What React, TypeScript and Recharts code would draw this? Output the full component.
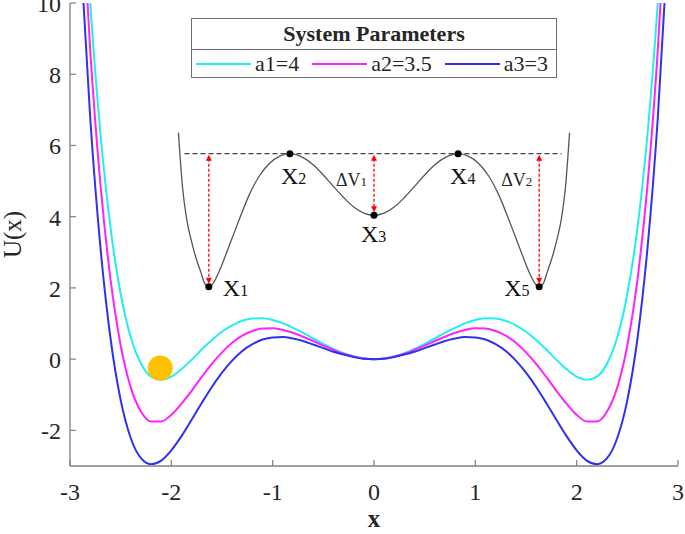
import React from 'react';
import { LineChart, Line, XAxis, YAxis, ReferenceDot, ReferenceLine, Legend } from 'recharts';

// potential curves (x step 0.1)
const xValues = [
  -3.0, -2.9, -2.8, -2.7, -2.6, -2.5, -2.4, -2.3, -2.2, -2.1, -2.0, -1.9, -1.8, -1.7, -1.6, -1.5,
  -1.4, -1.3, -1.2, -1.1, -1.0, -0.9, -0.8, -0.7, -0.6, -0.5, -0.4, -0.3, -0.2, -0.1, 0.0,
  0.1, 0.2, 0.3, 0.4, 0.5, 0.6, 0.7, 0.8, 0.9, 1.0, 1.1, 1.2, 1.3, 1.4, 1.5,
  1.6, 1.7, 1.8, 1.9, 2.0, 2.1, 2.2, 2.3, 2.4, 2.5, 2.6, 2.7, 2.8, 2.9, 3.0,
];
const uA1 = [
  21.16, 14.85, 10.0, 6.35, 3.69, 1.83, 0.61, -0.12, -0.49, -0.58, -0.49, -0.28, -0.02, 0.27, 0.54, 0.77,
  0.95, 1.08, 1.14, 1.15, 1.1, 1.01, 0.88, 0.74, 0.58, 0.43, 0.29, 0.17, 0.08, 0.02, 0,
  0.02, 0.08, 0.17, 0.29, 0.43, 0.58, 0.74, 0.88, 1.01, 1.1, 1.15, 1.14, 1.08, 0.95, 0.77,
  0.54, 0.27, -0.02, -0.28, -0.49, -0.58, -0.49, -0.12, 0.61, 1.83, 3.69, 6.35, 10.0, 14.85, 21.16,
];
const uA2 = [
  20.16, 13.64, 8.65, 4.92, 2.24, 0.39, -0.8, -1.47, -1.75, -1.75, -1.56, -1.25, -0.89, -0.5, -0.13, 0.19,
  0.46, 0.66, 0.79, 0.86, 0.87, 0.82, 0.74, 0.63, 0.51, 0.38, 0.26, 0.15, 0.07, 0.02, 0,
  0.02, 0.07, 0.15, 0.26, 0.38, 0.51, 0.63, 0.74, 0.82, 0.87, 0.86, 0.79, 0.66, 0.46, 0.19,
  -0.13, -0.5, -0.89, -1.25, -1.56, -1.75, -1.75, -1.47, -0.8, 0.39, 2.24, 4.92, 8.65, 13.64, 20.16,
];
const uA3 = [
  17.99, 11.61, 6.75, 3.15, 0.58, -1.15, -2.22, -2.78, -2.95, -2.85, -2.56, -2.16, -1.7, -1.23, -0.78, -0.38,
  -0.04, 0.23, 0.42, 0.55, 0.61, 0.62, 0.58, 0.51, 0.41, 0.31, 0.21, 0.13, 0.06, 0.01, 0,
  0.01, 0.06, 0.13, 0.21, 0.31, 0.41, 0.51, 0.58, 0.62, 0.61, 0.55, 0.42, 0.23, -0.04, -0.38,
  -0.78, -1.23, -1.7, -2.16, -2.56, -2.85, -2.95, -2.78, -2.22, -1.15, 0.58, 3.15, 6.75, 11.61, 17.99,
];
const seriesNames = ['a1=4', 'a2=3.5', 'a3=3'];

// schematic inset well (drawn in the same data units)
const insetX = [
  -1.93, -1.89, -1.85, -1.8, -1.77, -1.71, -1.67, -1.63, -1.59, -1.53, -1.46, -1.4, -1.33, -1.23, -1.13,
  -1.03, -0.93, -0.83, -0.7, -0.6, -0.5, -0.4, -0.3, -0.2, -0.1, 0,
  0.1, 0.2, 0.3, 0.4, 0.5, 0.6, 0.7, 0.83, 0.93, 1.03, 1.13, 1.23, 1.33, 1.4, 1.46, 1.53, 1.59,
  1.63, 1.67, 1.71, 1.77, 1.8, 1.85, 1.89, 1.93,
];
const insetU = [
  6.36, 4.84, 3.95, 3.3, 2.97, 2.45, 2.12, 2.03, 2.12, 2.45, 2.95, 3.4, 3.92, 4.62, 5.15,
  5.5, 5.7, 5.77, 5.66, 5.46, 5.17, 4.85, 4.54, 4.27, 4.1, 4.04,
  4.1, 4.27, 4.54, 4.85, 5.17, 5.46, 5.66, 5.77, 5.7, 5.5, 5.15, 4.62, 3.92, 3.4, 2.95, 2.45, 2.12,
  2.03, 2.12, 2.45, 2.97, 3.3, 3.95, 4.84, 6.36,
];
const wellX = [-1.63, -0.83, 0, 0.83, 1.63];
const wellU = [2.03, 5.77, 4.04, 5.77, 2.03];
const wellNames = ['1', '2', '3', '4', '5'];
const barrierLevel = 5.77;
const barrierStart = -1.87;
const barrierEnd = 1.85;
const gapX = [-1.63, 0, 1.63];
const gapLabels = ['', '1', '2'];

const ballX = -2.11;
const ballU = -0.25;

const xTicks = [-3, -2, -1, 0, 1, 2, 3];
const yTicks = [-2, 0, 2, 4, 6, 8, 10];

const rows = xValues.map((x, i) => ({ x, a1: uA1[i], a2: uA2[i], a3: uA3[i] }));
const insetRows = insetX.map((x, i) => ({ x, v: insetU[i] }));

const SERIF = 'Liberation Serif, DejaVu Serif, Times New Roman, serif';
const AXIS = '#808080';
const TEXT = '#262626';
const COLORS = ['#22EEEE', '#FF22FF', '#3030F0'];

// label offsets (px) for X1..X5 relative to dot centre
const wellLabelOffset = [
  [14, 9],
  [-9, 30],
  [-13, 27],
  [-8, 30],
  [-35, 9],
];

function BottomTick({ x, y, payload }: any) {
  return (
    <g>
      <line x1={x} y1={y} x2={x} y2={y - 6} stroke={AXIS} strokeWidth={1.2} />
      <text x={x} y={y + 34} textAnchor="middle" style={{ fontFamily: SERIF }} fontSize={24} fill={TEXT}>
        {payload.value}
      </text>
    </g>
  );
}

function LeftTick({ x, y, payload }: any) {
  return (
    <g>
      <line x1={x} y1={y} x2={x + 6} y2={y} stroke={AXIS} strokeWidth={1.2} />
      <text x={x - 9} y={y + 9} textAnchor="end" style={{ fontFamily: SERIF }} fontSize={24} fill={TEXT}>
        {payload.value}
      </text>
    </g>
  );
}

function TopTick({ x, y }: any) {
  return <line x1={x} y1={y} x2={x} y2={y + 6} stroke={AXIS} strokeWidth={1.2} />;
}

function RightTick({ x, y }: any) {
  return <line x1={x} y1={y} x2={x - 6} y2={y} stroke={AXIS} strokeWidth={1.2} />;
}

function GapArrow(props: any) {
  const { x1, y1, x2, y2 } = props;
  const top = Math.min(y1, y2) + 1;
  const bottom = Math.max(y1, y2) - 3;
  return (
    <g>
      <line x1={x1} y1={top + 4} x2={x2} y2={bottom - 4} stroke="#FF0000" strokeWidth={1.3} strokeDasharray="3 2" />
      <path d={`M${x1 - 3},${top + 6} L${x1},${top} L${x1 + 3},${top + 6} Z`} fill="#FF0000" />
      <path d={`M${x1 - 3},${bottom - 6} L${x1},${bottom} L${x1 + 3},${bottom - 6} Z`} fill="#FF0000" />
    </g>
  );
}

function LegendBox({ payload }: any) {
  const items = (payload || []).filter((p: any) => seriesNames.includes(p.value));
  return (
    <div
      style={{
        width: 366,
        height: 60,
        boxSizing: 'border-box',
        border: '1.3px solid #6f6f6f',
        background: '#fff',
        fontFamily: SERIF,
        color: TEXT,
      }}
    >
      <div
        style={{
          height: 30,
          borderBottom: '1.3px solid #6f6f6f',
          textAlign: 'center',
          fontWeight: 'bold',
          fontSize: 22,
          lineHeight: '30px',
        }}
      >
        System Parameters
      </div>
      <div style={{ display: 'flex', alignItems: 'center', height: 28, paddingLeft: 4, fontSize: 22 }}>
        {items.map((p: any) => (
          <div key={p.value} style={{ display: 'flex', alignItems: 'center', marginRight: 13 }}>
            <div style={{ width: 55, height: 1.6, background: p.color, marginRight: 4 }} />
            <span>{p.value}</span>
          </div>
        ))}
      </div>
    </div>
  );
}

export default function App() {
  return (
    <div style={{ position: 'absolute', left: 0, top: 0, background: '#fff', fontFamily: SERIF }}>
      <LineChart width={685} height={534} data={rows} margin={{ top: 3, right: 7, left: 0, bottom: 0 }}>
        <XAxis
          dataKey="x"
          type="number"
          domain={[-3, 3]}
          ticks={xTicks}
          interval={0}
          allowDataOverflow
          height={68}
          tickSize={0}
          tickMargin={0}
          tickLine={false}
          axisLine={{ stroke: AXIS, strokeWidth: 1.3 }}
          tick={<BottomTick />}
          label={{
            content: ({ viewBox }: any) => (
              <text
                x={viewBox.x + viewBox.width / 2}
                y={viewBox.y + 61}
                textAnchor="middle"
                style={{ fontFamily: SERIF }}
                fontSize={25}
                fontWeight="bold"
                fill={TEXT}
              >
                x
              </text>
            ),
          }}
        />
        <XAxis
          xAxisId="top"
          orientation="top"
          dataKey="x"
          type="number"
          domain={[-3, 3]}
          ticks={xTicks}
          interval={0}
          height={0}
          tickSize={0}
          tickMargin={0}
          tickLine={false}
          axisLine={{ stroke: AXIS, strokeWidth: 1.3 }}
          tick={<TopTick />}
        />
        <YAxis
          type="number"
          domain={[-3, 10]}
          ticks={yTicks}
          interval={0}
          allowDataOverflow
          width={70}
          tickSize={0}
          tickMargin={0}
          tickLine={false}
          axisLine={{ stroke: AXIS, strokeWidth: 1.3 }}
          tick={<LeftTick />}
          label={{
            content: ({ viewBox }: any) => {
              const cx = 21;
              const cy = viewBox.y + viewBox.height / 2;
              return (
                <text
                  x={cx}
                  y={cy}
                  transform={`rotate(-90 ${cx} ${cy})`}
                  textAnchor="middle"
                  style={{ fontFamily: SERIF }}
                  fontSize={25}
                  fill={TEXT}
                >
                  U(x)
                </text>
              );
            },
          }}
        />
        <YAxis
          yAxisId="right"
          orientation="right"
          type="number"
          domain={[-3, 10]}
          ticks={yTicks}
          interval={0}
          width={0}
          tickSize={0}
          tickMargin={0}
          tickLine={false}
          axisLine={{ stroke: AXIS, strokeWidth: 1.3 }}
          tick={<RightTick />}
        />

        <Line
          data={insetRows}
          dataKey="v"
          type="monotone"
          stroke="#555"
          strokeWidth={1.3}
          dot={false}
          activeDot={false}
          legendType="none"
          isAnimationActive={false}
        />
        <Line dataKey="a1" name={seriesNames[0]} type="monotone" stroke={COLORS[0]} strokeWidth={2} dot={false} activeDot={false} isAnimationActive={false} />
        <Line dataKey="a2" name={seriesNames[1]} type="monotone" stroke={COLORS[1]} strokeWidth={2} dot={false} activeDot={false} isAnimationActive={false} />
        <Line dataKey="a3" name={seriesNames[2]} type="monotone" stroke={COLORS[2]} strokeWidth={2} dot={false} activeDot={false} isAnimationActive={false} />

        <ReferenceLine
          segment={[
            { x: barrierStart, y: barrierLevel },
            { x: barrierEnd, y: barrierLevel },
          ]}
          stroke="#444"
          strokeWidth={1.2}
          strokeDasharray="5 3"
        />
        {gapX.map((gx, i) => (
          <ReferenceLine
            key={`gap-${i}`}
            segment={[
              { x: gx, y: wellU[i * 2] },
              { x: gx, y: barrierLevel },
            ]}
            shape={GapArrow}
            label={
              gapLabels[i]
                ? {
                    content: ({ viewBox }: any) => (
                      <text x={viewBox.x - 38} y={viewBox.y + 32} style={{ fontFamily: SERIF }} fontSize={18} fill={TEXT}>
                        ΔV
                        <tspan fontSize={13}>{gapLabels[i]}</tspan>
                      </text>
                    ),
                  }
                : undefined
            }
          />
        ))}
        {wellX.map((wx, i) => (
          <ReferenceDot
            key={`well-${i}`}
            x={wx}
            y={wellU[i]}
            r={3.5}
            fill="#000"
            stroke="none"
            label={{
              content: ({ viewBox }: any) => {
                const cx = viewBox.x + viewBox.width / 2;
                const cy = viewBox.y + viewBox.height / 2;
                return (
                  <text
                    x={cx + wellLabelOffset[i][0]}
                    y={cy + wellLabelOffset[i][1]}
                    style={{ fontFamily: SERIF }}
                    fontSize={24}
                    fill="#111"
                  >
                    X<tspan fontSize={16}>{wellNames[i]}</tspan>
                  </text>
                );
              },
            }}
          />
        ))}
        <ReferenceDot x={ballX} y={ballU} r={12.5} fill="#FFC000" stroke="none" />

        <Legend
          layout="horizontal"
          verticalAlign="middle"
          align="center"
          content={<LegendBox />}
          wrapperStyle={{ left: 191, top: 18, width: 366, height: 60 }}
        />
      </LineChart>
    </div>
  );
}
